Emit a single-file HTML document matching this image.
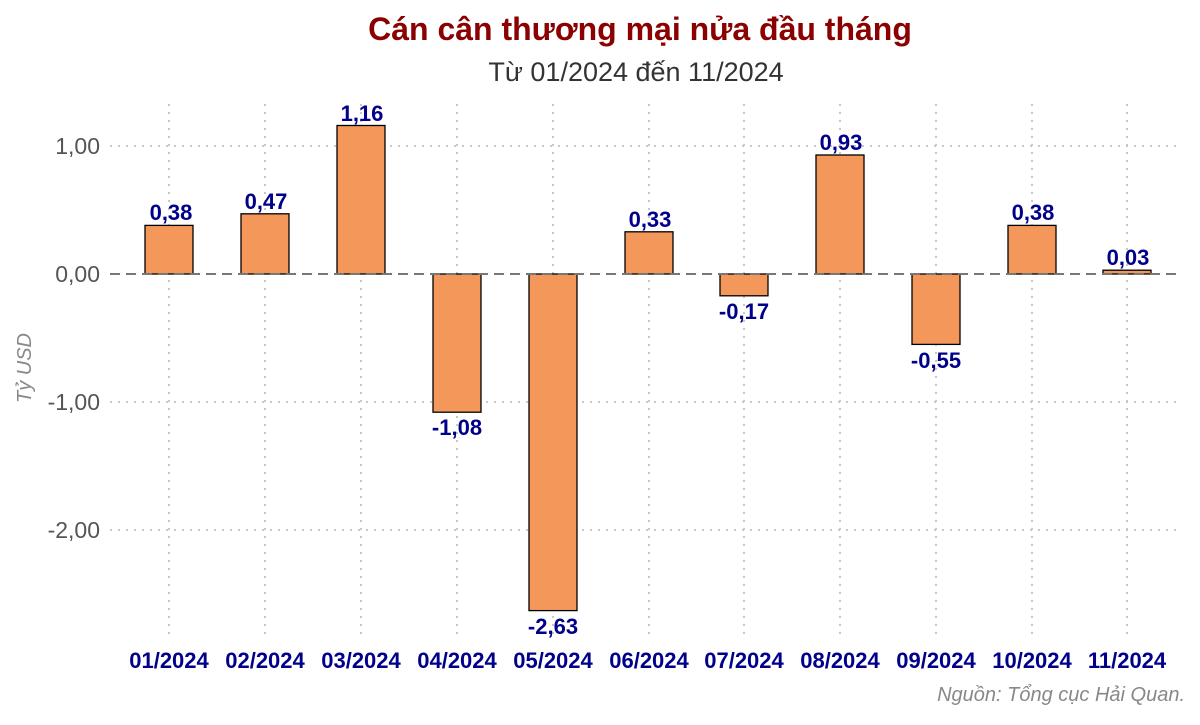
<!DOCTYPE html>
<html><head><meta charset="utf-8"><style>
body{margin:0;background:#fff;width:1200px;height:720px;overflow:hidden}
svg text{font-family:"Liberation Sans",Arial,sans-serif}
</style></head><body>
<svg width="1200" height="720" xmlns="http://www.w3.org/2000/svg">
<rect width="1200" height="720" fill="#fff"/>
<text x="640" y="40" text-anchor="middle" font-size="32" font-weight="bold" fill="#8b0000">Cán cân thương mại nửa đầu tháng</text>
<text x="636" y="81" text-anchor="middle" font-size="27" fill="#333">Từ 01/2024 đến 11/2024</text>
<g stroke="#c8c8c8" stroke-width="2" stroke-dasharray="2,6">
<line x1="110" x2="1180" y1="146" y2="146"/>
<line x1="110" x2="1180" y1="402" y2="402"/>
<line x1="110" x2="1180" y1="530" y2="530"/>
<line x1="169" x2="169" y1="104" y2="640"/><line x1="265" x2="265" y1="104" y2="640"/>
<line x1="361" x2="361" y1="104" y2="640"/><line x1="457" x2="457" y1="104" y2="640"/>
<line x1="553" x2="553" y1="104" y2="640"/><line x1="649" x2="649" y1="104" y2="640"/>
<line x1="744" x2="744" y1="104" y2="640"/><line x1="840" x2="840" y1="104" y2="640"/>
<line x1="936" x2="936" y1="104" y2="640"/><line x1="1032" x2="1032" y1="104" y2="640"/>
<line x1="1127" x2="1127" y1="104" y2="640"/>
</g>
<g font-size="23" fill="#555" text-anchor="end">
<text x="100" y="154">1,00</text><text x="100" y="282">0,00</text>
<text x="100" y="410">-1,00</text><text x="100" y="538">-2,00</text>
</g>
<text transform="translate(31,368) rotate(-90)" text-anchor="middle" font-size="20" font-style="italic" fill="#888">Tỷ USD</text>
<g fill="#f4975a" stroke="#000" stroke-width="1.3">
<rect x="145" y="225.4" width="48" height="48.6"/>
<rect x="241" y="213.8" width="48" height="60.2"/>
<rect x="337" y="125.5" width="48" height="148.5"/>
<rect x="433" y="274" width="48" height="138.2"/>
<rect x="529" y="274" width="48" height="336.6"/>
<rect x="625" y="231.8" width="48" height="42.2"/>
<rect x="720" y="274" width="48" height="21.8"/>
<rect x="816" y="155" width="48" height="119"/>
<rect x="912" y="274" width="48" height="70.4"/>
<rect x="1008" y="225.4" width="48" height="48.6"/>
<rect x="1103" y="270.2" width="48" height="3.8"/>
</g>
<line x1="110" x2="1180" y1="274" y2="274" stroke="#777" stroke-width="2" stroke-dasharray="10,6"/>
<g font-size="22" font-weight="bold" fill="#00008b" text-anchor="middle">
<text x="171" y="220">0,38</text><text x="266" y="209">0,47</text><text x="362" y="121">1,16</text>
<text x="457" y="435">-1,08</text><text x="553" y="634">-2,63</text><text x="650" y="227">0,33</text>
<text x="744" y="319">-0,17</text><text x="841" y="150">0,93</text><text x="936" y="368">-0,55</text>
<text x="1033" y="220">0,38</text><text x="1128" y="265">0,03</text>
</g>
<g font-size="22" font-weight="bold" fill="#00008b" text-anchor="middle">
<text x="169" y="668">01/2024</text><text x="265" y="668">02/2024</text><text x="361" y="668">03/2024</text>
<text x="457" y="668">04/2024</text><text x="553" y="668">05/2024</text><text x="649" y="668">06/2024</text>
<text x="744" y="668">07/2024</text><text x="840" y="668">08/2024</text><text x="936" y="668">09/2024</text>
<text x="1032" y="668">10/2024</text><text x="1127" y="668">11/2024</text>
</g>
<text x="1185" y="701" text-anchor="end" font-size="20" font-style="italic" fill="#888">Nguồn: Tổng cục Hải Quan.</text>
</svg>
</body></html>
